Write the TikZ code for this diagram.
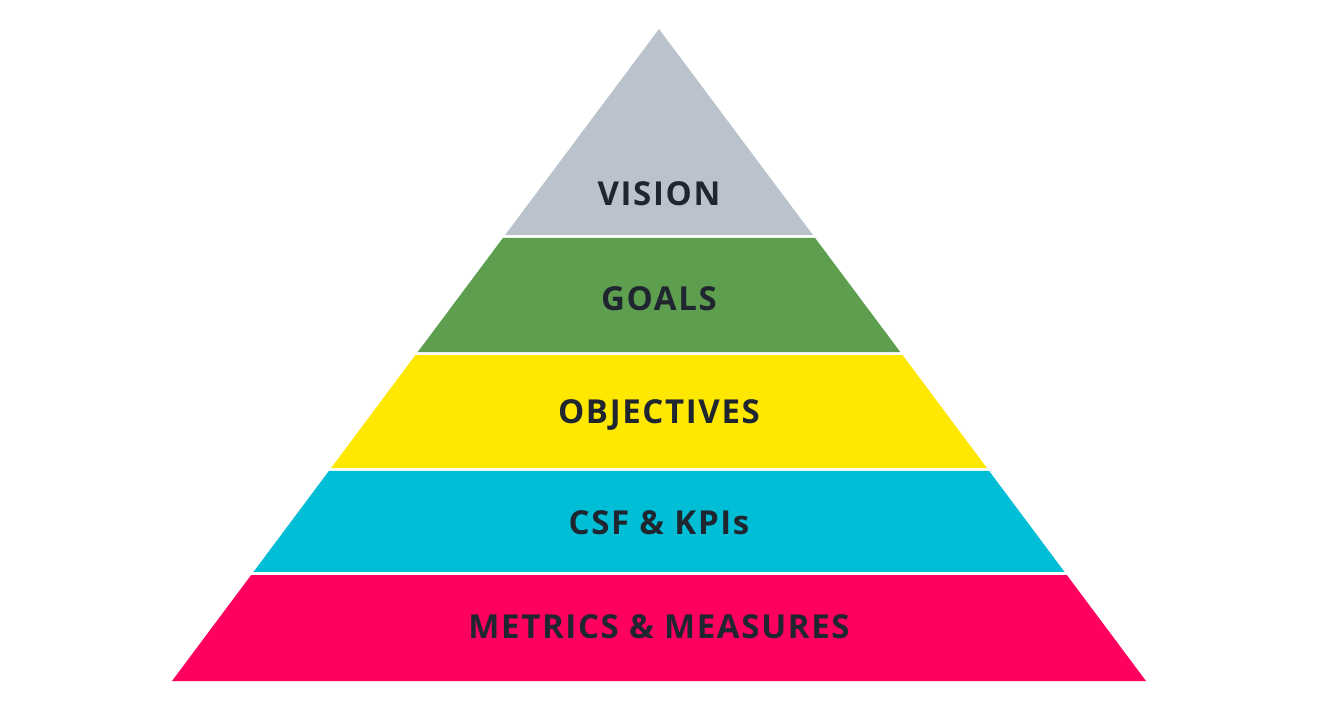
\documentclass[tikz,border=0pt]{standalone}
\usepackage{fontspec}
\usepackage{tikz}
\usetikzlibrary{calc}
\newfontfamily\pyrfont[LetterSpace=5]{Open Sans}
\definecolor{visiongray}{HTML}{BAC3CB}
\definecolor{goalgreen}{HTML}{5E9E4F}
\definecolor{objyellow}{HTML}{FFE800}
\definecolor{csfcyan}{HTML}{00BED6}
\definecolor{metricpink}{HTML}{FF0060}
\definecolor{labeltext}{HTML}{1F2630}

\begin{document}
\begin{tikzpicture}[
      x=1pt,y=-1pt,
      lbl/.style={font=\pyrfont\bfseries\fontsize{33}{38}\selectfont,text=labeltext,inner sep=0pt}
    ]
    \fill[white] (0,0) rectangle (1320,715);
    \useasboundingbox (0,0) rectangle (1320,715);
    \coordinate (apex) at (659,29);
    \coordinate (bl) at (172,681);
    \coordinate (br) at (1146,681);

    % bands, top to bottom
    \foreach \top/\bot/\col in {29/235/visiongray,238/352/goalgreen,355/468/objyellow,471/572/csfcyan,575/681/metricpink}{
      \fill[\col] ($(apex)!{(\top-29)/652}!(bl)$) -- ($(apex)!{(\bot-29)/652}!(bl)$)
        -- ($(apex)!{(\bot-29)/652}!(br)$) -- ($(apex)!{(\top-29)/652}!(br)$) -- cycle;
    }

    \node[lbl] (vision) at (659,194) {VISION};
    \node[lbl] (goals) at (659,299) {GOALS};
    \node[lbl] (objectives) at (659,415) {OBJECTIVES};
    \node[lbl] (csf) at (659,523) {CSF \& KPIs};
    \node[lbl] (metrics) at (659,627) {METRICS \& MEASURES};
  \end{tikzpicture}
\end{document}
